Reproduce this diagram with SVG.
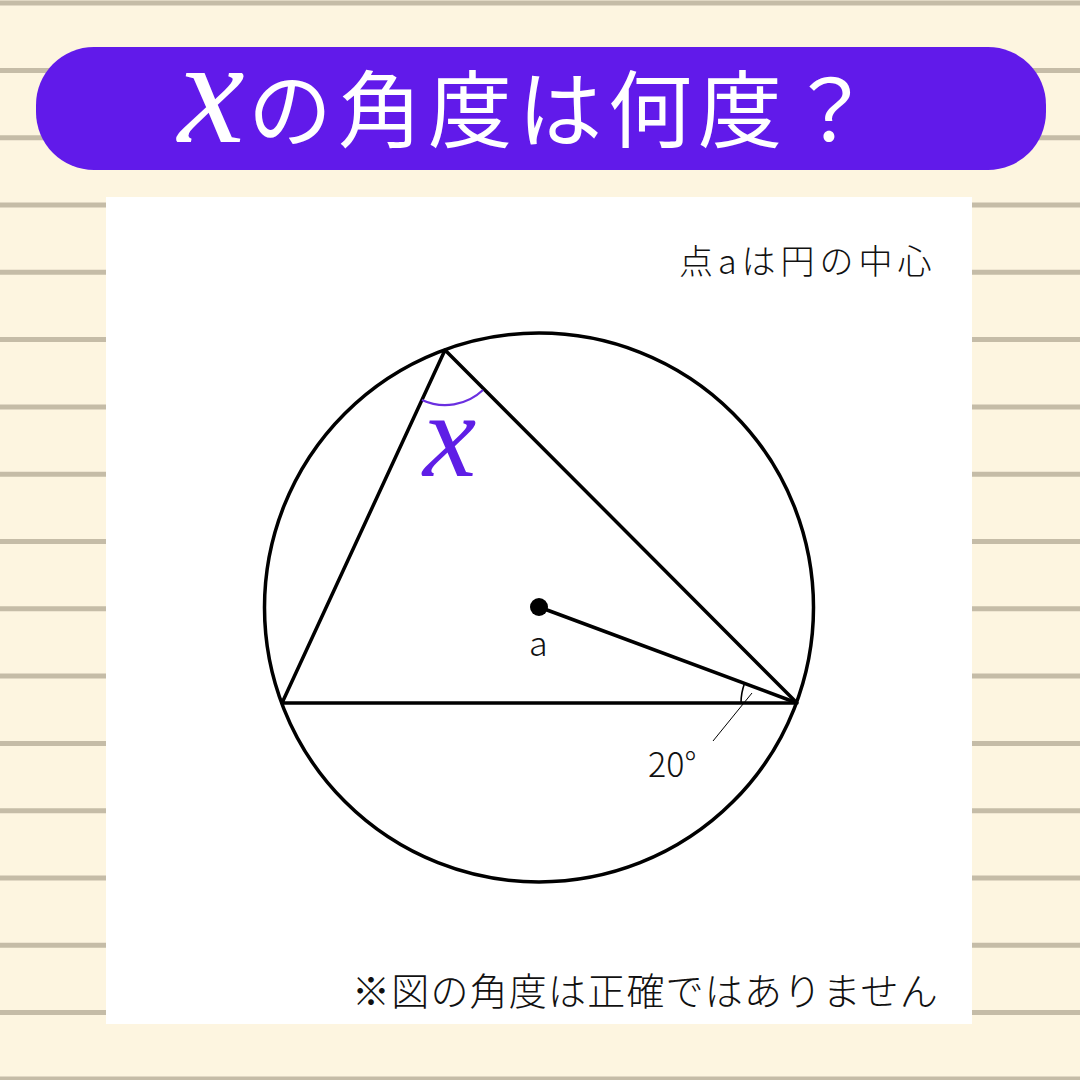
<svg xmlns="http://www.w3.org/2000/svg" width="1080" height="1080" viewBox="0 0 1080 1080">
<defs>
<style>
.rule{stroke:#c5bca7;stroke-width:5}
.jp{font-family:"Noto Sans CJK JP","Noto Sans",sans-serif;font-weight:300;fill:#111}
.geo{fill:none;stroke:#000;stroke-width:3.5;stroke-linejoin:round}
</style>
</defs>
<rect width="1080" height="1080" fill="#fdf5e0"/>
<g id="rules">
<line class="rule" x1="0" y1="3" x2="1080" y2="3"/>
<line class="rule" x1="0" y1="70.4" x2="1080" y2="70.4"/>
<line class="rule" x1="0" y1="137.7" x2="1080" y2="137.7"/>
<line class="rule" x1="0" y1="205" x2="1080" y2="205"/>
<line class="rule" x1="0" y1="272.3" x2="1080" y2="272.3"/>
<line class="rule" x1="0" y1="339.6" x2="1080" y2="339.6"/>
<line class="rule" x1="0" y1="406.9" x2="1080" y2="406.9"/>
<line class="rule" x1="0" y1="474.2" x2="1080" y2="474.2"/>
<line class="rule" x1="0" y1="541.5" x2="1080" y2="541.5"/>
<line class="rule" x1="0" y1="608.8" x2="1080" y2="608.8"/>
<line class="rule" x1="0" y1="676.1" x2="1080" y2="676.1"/>
<line class="rule" x1="0" y1="743.4" x2="1080" y2="743.4"/>
<line class="rule" x1="0" y1="810.7" x2="1080" y2="810.7"/>
<line class="rule" x1="0" y1="878" x2="1080" y2="878"/>
<line class="rule" x1="0" y1="945.3" x2="1080" y2="945.3"/>
<line class="rule" x1="0" y1="1012.6" x2="1080" y2="1012.6"/>
<line class="rule" x1="0" y1="1079" x2="1080" y2="1079"/>
</g>
<g id="title">
<rect x="36" y="47" width="1010" height="123" rx="58" fill="#611aea"/>
<text x="178" y="142" font-family="Liberation Serif, serif" font-style="italic" font-size="150" fill="#fff">x</text>
<text x="248" y="141" font-family="Noto Sans CJK JP, sans-serif" font-size="84" font-weight="400" fill="#fff" letter-spacing="6">の角度は何度？</text>
</g>
<rect id="panel" x="106" y="197" width="866" height="827" fill="#fff"/>
<text id="note-top" class="jp" x="679" y="274" font-size="34" letter-spacing="5">点aは円の中心</text>
<g id="figure">
<circle class="geo" cx="539" cy="607.5" r="274.5"/>
<polygon class="geo" points="445,350 282,703 797,703"/>
<line class="geo" x1="539" y1="607" x2="797" y2="703"/>
<circle cx="539" cy="607" r="9" fill="#000"/>
<path d="M422,400 A55,55 0 0 0 483,390" fill="none" stroke="#6a2fe0" stroke-width="2.2"/>
<path d="M741,703 A56,56 0 0 1 744.5,683.5" fill="none" stroke="#000" stroke-width="1.6"/>
<line x1="752" y1="693" x2="713" y2="741" stroke="#000" stroke-width="1"/>
</g>
<g id="labels">
<text x="423" y="476" font-family="Liberation Serif, serif" font-style="italic" font-size="120" fill="#5f1ee6">x</text>
<text class="jp" x="529" y="656" font-size="34">a</text>
<text class="jp" x="648" y="777" font-size="34">20°</text>
</g>
<text id="note-bottom" class="jp" x="352" y="1005" font-size="38" letter-spacing="1.2">※図の角度は正確ではありません</text>
</svg>
